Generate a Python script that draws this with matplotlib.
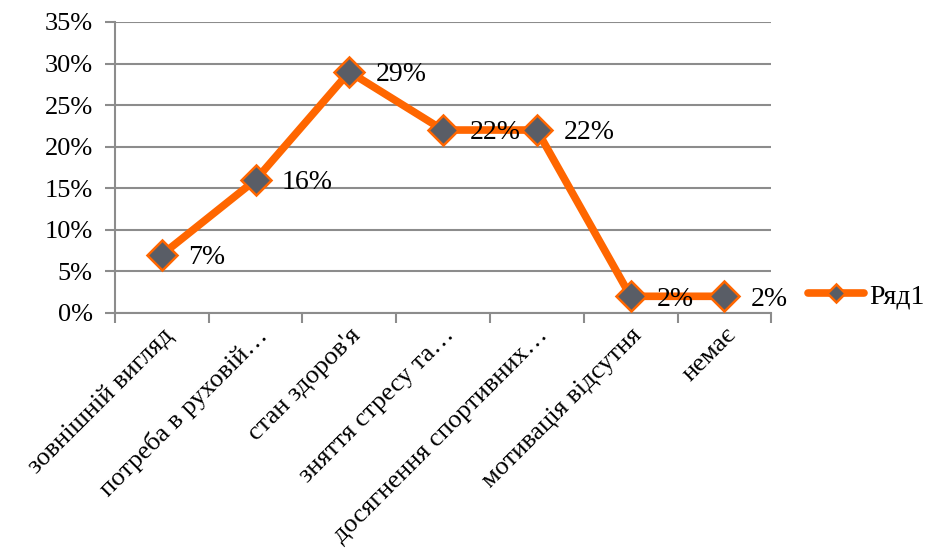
import matplotlib
matplotlib.use("Agg")
import matplotlib.pyplot as plt
from matplotlib.ticker import PercentFormatter, FixedLocator, NullFormatter

categories = ["зовнішній вигляд", "потреба в руховій…", "стан здоров'я",
              "зняття стресу та…", "досягнення спортивних…",
              "мотивація відсутня", "немає"]
values = [7, 16, 29, 22, 22, 2, 2]
series_name = "Ряд1"

plt.rcParams['font.family'] = ['Liberation Serif', 'DejaVu Serif']

orange = '#FF6600'
grey = '#595D66'
gridc = '#8C8C8C'

fig = plt.figure(figsize=(9.27, 5.49), dpi=100)
ax = fig.add_axes([0.124, 0.430, 0.708, 0.530])

x = list(range(len(categories)))
ax.plot(x, values, color=orange, linewidth=5.5, marker='D', markersize=15,
        markerfacecolor=grey, markeredgecolor=orange, markeredgewidth=1.8,
        label=series_name, solid_capstyle='round', zorder=3)

for xi, v in zip(x, values):
    ax.annotate(f"{v}%", (xi, v), xytext=(19, -2), textcoords='offset points',
                ha='left', va='center', fontsize=20, color='black', zorder=4)

ax.set_xlim(-0.5, len(categories) - 0.5)
ax.set_ylim(0, 35)
ax.set_yticks(range(0, 36, 5))
ax.yaxis.set_major_formatter(PercentFormatter(decimals=0))
ax.yaxis.grid(True, color=gridc, linewidth=1.5)
ax.set_axisbelow(True)

# category labels at centres, tick marks at boundaries
ax.set_xticks(x)
ax.set_xticklabels(categories, rotation=45, ha='right', rotation_mode='anchor',
                   fontsize=19)
ax.tick_params(axis='x', which='major', length=0, pad=8)
ax.xaxis.set_minor_locator(FixedLocator([i - 0.5 for i in range(len(categories) + 1)]))
ax.xaxis.set_minor_formatter(NullFormatter())
ax.tick_params(axis='x', which='minor', length=7, width=1.5, color=gridc)
ax.tick_params(axis='y', length=7, width=1.5, color=gridc, labelsize=19, pad=9)

for s in ['top', 'right']:
    ax.spines[s].set_visible(False)
ax.spines['left'].set_color(gridc)
ax.spines['left'].set_linewidth(1.5)
ax.spines['bottom'].set_color(gridc)
ax.spines['bottom'].set_linewidth(1.5)

fig.legend(loc='center left', bbox_to_anchor=(0.872, 0.46), frameon=False,
           fontsize=20, handlelength=2.0, handletextpad=0.2, markerscale=0.6,
           borderpad=0, borderaxespad=0)

fig.savefig("out.png", dpi=100)
